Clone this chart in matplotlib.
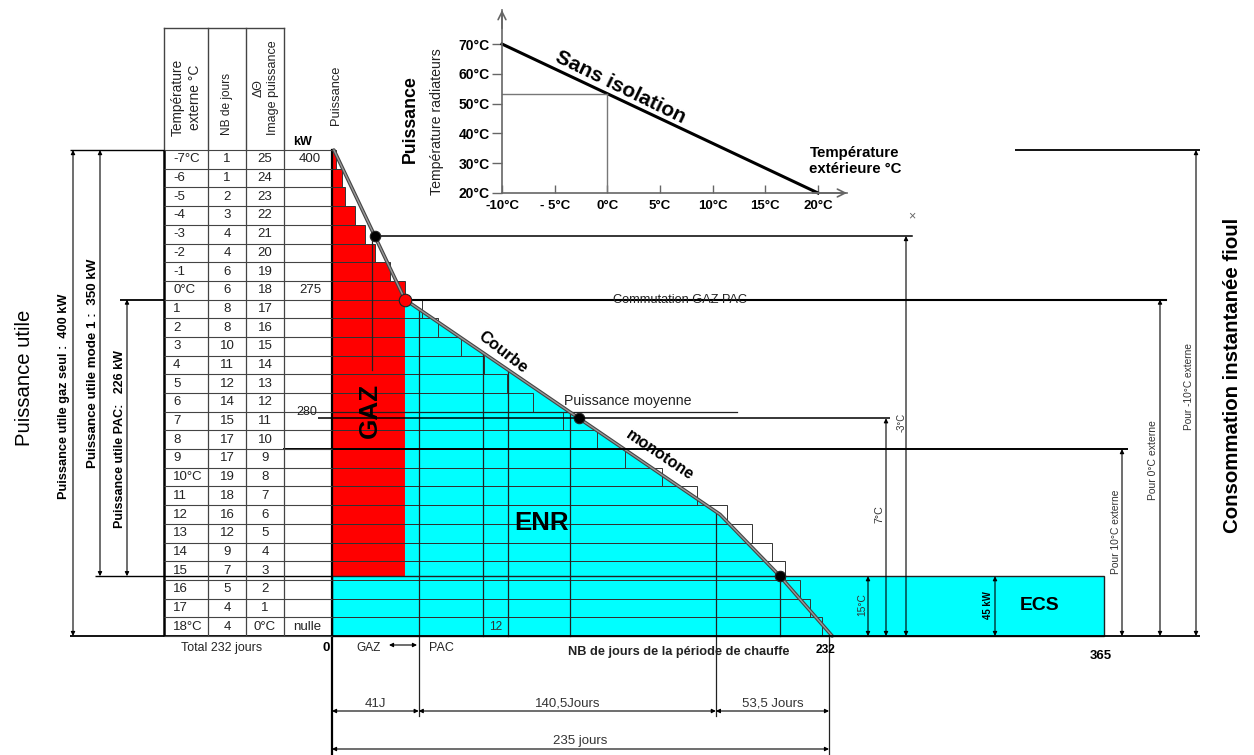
import matplotlib
matplotlib.use('Agg')
import numpy as np
import matplotlib.pyplot as plt
from matplotlib.patches import Rectangle, Polygon
from matplotlib.transforms import blended_transform_factory

plt.rcParams['font.family'] = ['Liberation Sans', 'DejaVu Sans']

# ---------------- données ----------------
temperatures = ['-7°C', '-6', '-5', '-4', '-3', '-2', '-1', '0°C', '1', '2', '3', '4', '5',
                '6', '7', '8', '9', '10°C', '11', '12', '13', '14', '15', '16', '17', '18°C']
nb_jours = [1, 1, 2, 3, 4, 4, 6, 6, 8, 8, 10, 11, 12, 14, 15, 17, 17, 19, 18, 16, 12, 9, 7, 5, 4, 4]
image_puissance = ['25', '24', '23', '22', '21', '20', '19', '18', '17', '16', '15', '14', '13',
                   '12', '11', '10', '9', '8', '7', '6', '5', '4', '3', '2', '1', '0°C']
kw_lignes = [0, 7, 25]
kw_textes = ['400', '275', 'nulle']

fin_palier_jours = [1.9, 4.7, 6.1, 10.9, 15.6, 20.3, 27.4, 34.5, 42.6, 50.1, 61.0, 71.9, 82.7,
                    95.0, 109.2, 125.3, 138.5, 156.0, 172.6, 186.8, 198.6, 208.0, 214.2, 221.3,
                    226.0, 231.7]
# courbe monotone (jours, niveau en lignes du tableau)
courbe_jours = [0.9, 34.5, 183.5, 211.8, 236.5]
courbe_niveau = [26.0, 18.0, 6.5, 3.2, 0.0]

nb_lignes_gaz = 8
niv_max, niv_m3, niv_commut, niv_moy, niv_10, niv_ecs = 26.0, 21.4, 18.0, 11.65, 10.0, 3.2
jours_annee = 365
grille_enr_jours = [41.0, 71.4, 83.2, 112.5, 181.5, 211.8]
segments_jours = [41, 140.5, 53.5]
segments_textes = ['41J', '140,5Jours', '53,5 Jours']
total_jours = 235

# encart : température radiateurs vs extérieure
ins_ext = [-10, 20]
ins_rad = [70, 20]
ins_xticks = [-10, -5, 0, 5, 10, 15, 20]
ins_xlabels = ['-10°C', '- 5°C', '0°C', '5°C', '10°C', '15°C', '20°C']
ins_yticks = [20, 30, 40, 50, 60, 70]

RED = '#ff0000'
CYAN = '#00ffff'

# ---------------- mise en page ----------------
W, H = 1254, 755
X0, K = 332.0, 2.115     # px du jour 0, px par jour
Y0, R = 636.0, 18.69     # px du niveau 0, px par ligne

fig = plt.figure(figsize=(W / 100, H / 100), dpi=100)
ax = fig.add_axes([0, 0, 1, 1])
ax.set_xlim(-X0 / K, (W - X0) / K)
ax.set_ylim((Y0 - H) / R, Y0 / R)
ax.set_autoscale_on(False)
ax.axis('off')

lay = fig.add_axes([0, 0, 1, 1])
lay.set_xlim(0, W)
lay.set_ylim(H, 0)
lay.set_autoscale_on(False)
lay.axis('off')
lay.patch.set_alpha(0)

B = blended_transform_factory(lay.transData, ax.transData)


def d(xpx):
    return (xpx - X0) / K


def lv(ypx):
    return (Y0 - ypx) / R


renderer = fig.canvas.get_renderer()


def fit(t, length):
    rot = t.get_rotation()
    t.set_rotation(0)
    bb = t.get_window_extent(renderer)
    t.set_fontsize(t.get_fontsize() * length / bb.width)
    t.set_rotation(rot)
    return t


def txt(x, y, s, length=None, size=9, rot=0, bold=False, color='k', trans=None, **kw):
    t = lay.text(x, y, s, fontsize=size, rotation=rot, fontweight='bold' if bold else 'normal',
                 color=color, ha=kw.pop('ha', 'center'), va=kw.pop('va', 'center'),
                 transform=trans if trans is not None else lay.transData,
                 rotation_mode='anchor', **kw)
    if length:
        fit(t, length)
    return t


def hline(x1, x2, level, lw=1.0, color='k'):
    lay.plot([x1, x2], [level, level], transform=B, color=color, lw=lw, solid_capstyle='butt')


def vline(x, l1, l2, lw=1.0, color='k'):
    lay.plot([x, x], [l1, l2], transform=B, color=color, lw=lw, solid_capstyle='butt')


AP = dict(arrowstyle='<|-|>', color='k', lw=0.8, mutation_scale=6, shrinkA=0, shrinkB=0)


def vdim(x, l1, l2):
    lay.annotate('', xy=(x, l1), xytext=(x, l2), xycoords=B, textcoords=B, arrowprops=AP)


def hdim(d1, d2, level):
    ax.annotate('', xy=(d1, level), xytext=(d2, level), arrowprops=AP)


# ---------------- zones colorées ----------------
for i in range(nb_lignes_gaz):
    ax.add_patch(Rectangle((0, 25 - i), fin_palier_jours[i], 1, fc=RED, ec='none', zorder=1))
jours_gaz = fin_palier_jours[nb_lignes_gaz - 1]
ax.add_patch(Rectangle((0, niv_ecs), jours_gaz, niv_commut - niv_ecs, fc=RED, ec='none', zorder=1))
pts = [(dj, nv) for dj, nv in zip(courbe_jours, courbe_niveau) if niv_ecs <= nv <= niv_commut]
pts.append((jours_gaz, niv_ecs))
ax.add_patch(Polygon(pts, closed=True, fc=CYAN, ec='none', zorder=1))
ax.add_patch(Rectangle((0, 0), jours_annee, niv_ecs, fc=CYAN, ec='#222', lw=1.0, zorder=1))

# paliers
for i in range(len(fin_palier_jours)):
    ax.add_patch(Rectangle((0, 25 - i), fin_palier_jours[i], 1, fc='none', ec='#333',
                           lw=0.7, zorder=2))

# grille verticale
cj = np.array(courbe_jours)
cn = np.array(courbe_niveau)
for dj in grille_enr_jours:
    top = np.interp(dj, cj, cn)
    bot = lv(716) if dj in (41.0, 181.5) else 0
    ax.plot([dj, dj], [top, bot], color='#222', lw=0.9, zorder=3)
ax.plot([d(372), d(372)], [niv_m3, lv(370)], color='#222', lw=0.9, zorder=3)
ax.plot([0, 0], [niv_max, lv(755)], color='k', lw=1.6, zorder=4)
ax.plot([total_jours, total_jours], [0, lv(755)], color='#222', lw=0.9, zorder=3)
ax.plot([0, d(737)], [12, 12], color='#222', lw=0.9, zorder=3)

# courbe monotone
ax.plot(courbe_jours, courbe_niveau, color='#444', lw=2.6, zorder=4, solid_capstyle='round')
ax.plot(courbe_jours, courbe_niveau, color='#999', lw=1.0, zorder=4)

# points
niv_points = [niv_m3, niv_commut, niv_moy, niv_ecs]
x_points = np.interp(niv_points, cn[::-1], cj[::-1])
for xp, yp, c in zip(x_points, niv_points, ['k', RED, 'k', 'k']):
    ax.plot(xp, yp, 'o', ms=9 if c == RED else 7.5, mfc=c, mec='#222', mew=0.8, zorder=6)

# lignes horizontales de référence
ax.plot([x_points[0], d(912)], [niv_m3, niv_m3], color='k', lw=1.1, zorder=5)
ax.plot([x_points[1], d(1166)], [niv_commut, niv_commut], color='k', lw=1.5, zorder=5)
hline(318, 890, niv_moy, lw=1.1)
hline(283, 1128, niv_10, lw=1.4)
hline(1015, 1200, niv_max, lw=1.3)
hline(95, 332, niv_ecs, lw=1.0)
hline(70, 1200, 0, lw=1.3)

# cotes droite
for x, l in [(868, niv_ecs), (886, niv_moy), (906, niv_m3), (995, niv_ecs),
             (1122, niv_10), (1160, niv_commut), (1196, niv_max)]:
    vdim(x, l, 0)

# cotes bas
cum = np.concatenate([[0], np.cumsum(segments_jours)])
for a, b in zip(cum[:-1], cum[1:]):
    hdim(a, b, lv(711))
hdim(0, total_jours, lv(749))
for a, b, s in zip(cum[:-1], cum[1:], segments_textes):
    ax.text((a + b) / 2, lv(704), s, ha='center', va='center', fontsize=9.5, color='#333')
ax.text(total_jours / 2, lv(741), '235 jours', ha='center', va='center', fontsize=9.5, color='#333')

# ---------------- tableau ----------------
lay.plot([164, 164], [28, 150], color='#444', lw=1.0)
for x in [208, 246, 284]:
    lay.plot([x, x], [28, 150], color='#444', lw=1.0)
lay.plot([164, 284], [28, 28], color='#444', lw=1.0)
vline(164, 0, niv_max, lw=1.8)
for x in [208, 246, 284]:
    vline(x, 0, niv_max, lw=0.9, color='#444')
for l in range(27):
    hline(164, 332, l, lw=0.8, color='#444')
hline(70, 164, niv_max, lw=1.0)
hline(120, 164, niv_commut, lw=1.3)

txt(186, 97, 'Température\nexterne °C', length=77, rot=90, linespacing=1.3, color='#222')
txt(227, 104, 'NB de jours', length=62, rot=90, color='#222')
txt(266, 88, 'ΔΘ\nImage puissance', length=95, rot=90, linespacing=1.3, color='#222')
txt(336, 95, 'Puissance', length=60, rot=90, color='#222')
txt(303, 142, 'kW', size=9, bold=True)

for i in range(len(temperatures)):
    y = 25.5 - i
    txt(173, y, temperatures[i], size=9.5, ha='left', color='#222', trans=B)
    txt(227, y, str(nb_jours[i]), size=9.5, color='#222', trans=B)
    txt(265, y, image_puissance[i], size=9.5, color='#222', trans=B)
for i, s in zip(kw_lignes, kw_textes):
    txt(321, 25.5 - i, s, size=9.5, ha='right', color='#222', trans=B)
txt(317, niv_moy + 0.35, '280', size=9, ha='right', color='#222', trans=B)
txt(222, 648, 'Total 232 jours', length=81, color='#222')
txt(326, 648, '0', size=9.5, bold=True)

# cotes gauche
vdim(73, niv_max, 0)
vdim(100, niv_max, niv_ecs)
vdim(127, niv_commut, niv_ecs)
txt(25, 378, 'Puissance utile', length=137, rot=90)
txt(64, 396, 'Puissance utile gaz seul :  400 kW', length=207, rot=90, bold=True)
txt(93, 363, 'Puissance utile mode 1 :  350 kW', length=210, rot=90, bold=True)
txt(120, 439, 'Puissance utile PAC:   226 kW', length=178, rot=90, bold=True)

# ---------------- textes du graphique ----------------
txt(680, 300, 'Commutation GAZ PAC', length=135, color='#222')
txt(503, 352, 'Courbe', length=58, rot=-38, bold=True)
txt(660, 455, 'monotone', length=78, rot=-34, bold=True)
txt(628, 401, 'Puissance moyenne', length=127, color='#222')
txt(370, 410, 'GAZ', length=55, rot=90, bold=True)
txt(541, 523, 'ENR', length=55, bold=True)
txt(496, 627, '12', size=8.5, color='#333')
txt(1040, 606, 'ECS', length=40, bold=True)
txt(988, 605, '45 kW', length=28, rot=90, bold=True)
txt(862, 605, '15°C', length=23, rot=90, color='#333')
txt(879, 514, '7°C', length=18, rot=90, color='#333')
txt(902, 422, '-3°C', length=19, rot=90, color='#333')
txt(1116, 532, 'Pour 10°C externe', length=85, rot=90, color='#333')
txt(1153, 460, 'Pour 0°C externe', length=80, rot=90, color='#333')
txt(1189, 386, 'Pour -10°C externe', length=87, rot=90, color='#333')
txt(1232, 375, 'Consommation instantanée fioul', length=316, rot=90, bold=True)
txt(912, 216, '×', size=9, color='#666')

txt(369, 648, 'GAZ', length=24, color='#222')
txt(441, 648, 'PAC', length=25, color='#222')
lay.annotate('', xy=(389, 645), xytext=(417, 645), arrowprops=AP)
txt(679, 652, 'NB de jours de la période de chauffe', length=222, bold=True, color='#222')
txt(826, 650, '232', length=20, bold=True)
txt(1101, 656, '365', length=22, bold=True)

# ---------------- encart ----------------
kx = 316 / 30.0
ky = 149 / 50.0
ins = fig.add_axes([502 / W, (H - 193) / H, 345 / W, 183 / H])
ins.set_xlim(-10, -10 + 345 / kx)
ins.set_ylim(20, 20 + 183 / ky)
ins.patch.set_alpha(0)
for s in ['top', 'right']:
    ins.spines[s].set_visible(False)
for s in ['left', 'bottom']:
    ins.spines[s].set_color('#666')
    ins.spines[s].set_linewidth(1.2)
ins.annotate('', xy=(1.0, 0), xytext=(0.9, 0), xycoords='axes fraction',
             arrowprops=dict(arrowstyle='->', color='#666', lw=1.2, mutation_scale=14,
                             shrinkA=0, shrinkB=0))
ins.annotate('', xy=(0, 1.0), xytext=(0, 0.9), xycoords='axes fraction',
             arrowprops=dict(arrowstyle='->', color='#666', lw=1.2, mutation_scale=14,
                             shrinkA=0, shrinkB=0))
ins.set_xticks(ins_xticks)
ins.set_xticklabels(ins_xlabels, fontweight='bold', fontsize=9.5)
ins.set_yticks(ins_yticks)
ins.set_yticklabels([f'{v}°C' for v in ins_yticks], fontweight='bold', fontsize=10)
ins.tick_params(axis='x', direction='in', length=6, width=1, color='#666', pad=5)
ins.tick_params(axis='y', direction='out', length=7, width=1, color='#666', pad=2)
ins.plot(ins_ext, ins_rad, color='k', lw=2.2, clip_on=False)
y0 = np.interp(0, ins_ext, ins_rad)
ins.plot([-10, 0], [y0, y0], color='#777', lw=1.0)
ins.plot([0, 0], [20, y0], color='#777', lw=1.0)

txt(410, 119, 'Puissance', length=88, rot=90, bold=True)
txt(437, 122, 'Température radiateurs', length=147, rot=90, color='#222')
txt(620, 87, 'Sans isolation', length=143, rot=-26, bold=True)
txt(855, 161, 'Température\nextérieure °C', length=92, bold=True, linespacing=1.15)

fig.savefig('out.png', dpi=100)
